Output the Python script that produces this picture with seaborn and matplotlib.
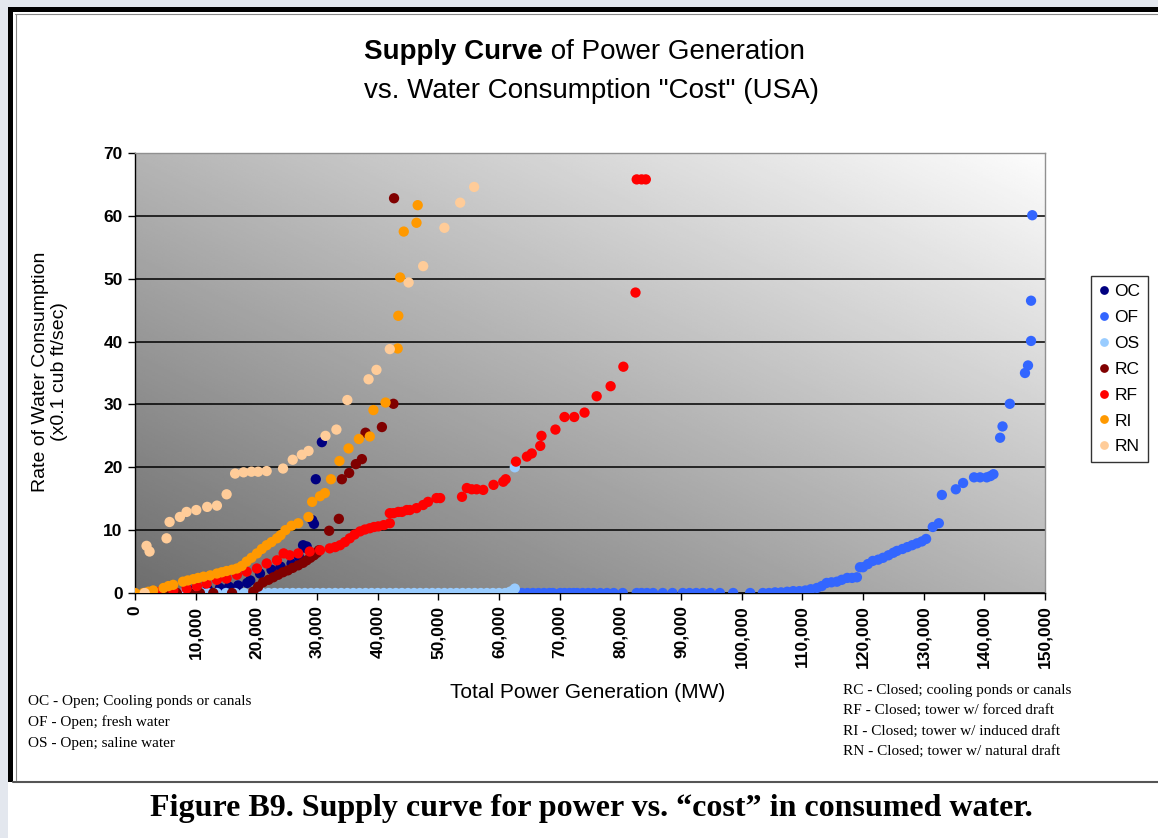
import matplotlib.pyplot as plt
import numpy as np
import pandas as pd
import seaborn as sns
from matplotlib.patches import Rectangle
from matplotlib.ticker import FuncFormatter

sns.set_theme(style="white")
plt.rcParams["font.family"] = ["Liberation Sans", "DejaVu Sans"]
plt.rcParams.update({"text.color": "black", "axes.labelcolor": "black",
                     "xtick.color": "black", "ytick.color": "black"})

# cooling technology codes and colours (Excel default palette)
types = ["OC", "OF", "OS", "RC", "RF", "RI", "RN"]
type_colors = ["#000080", "#3366FF", "#99CCFF", "#800000", "#FF0000", "#FF9900", "#FFCC99"]

oc_mw = [3000, 6000, 9000, 12000, 14000, 15500, 17000, 18500, 19000, 20600, 22500,
         24000, 25800, 27000, 27700, 28000, 28300, 29200, 29500, 29800, 30800]
oc_rate = [0, 0.2, 0.4, 0.6, 0.8, 1.0, 1.2, 1.6, 2.0, 3.1, 3.7,
           4.2, 4.7, 5.8, 7.6, 7.2, 7.4, 11.6, 11.0, 18.1, 24.0]

of_mw = [62900, 63800, 64700, 65600, 66500, 67400, 68300, 68900, 70100, 70800, 71600,
         72300, 72900, 73800, 74700, 75600, 76700, 77800, 78900, 80400, 82700, 83500,
         84400, 85400, 87000, 88600, 90300, 91400, 92500, 93600, 94800, 96400, 98600,
         101400, 103500, 104500, 105500, 106500, 107500, 108500, 109500, 110500, 111400,
         112400, 113200, 114000, 114800, 115700, 116500, 117400, 118200, 119000, 119500,
         120000, 120800, 121600, 122500, 123300, 124200, 125000, 125600, 126500, 127300,
         128100, 128900, 129700, 130400, 131500, 132500, 133000, 135300, 136500, 138300,
         139300, 140400, 141000, 141500, 142600, 143000, 144200, 146700, 147200, 147700,
         147700, 147900]
of_rate = [0, 0, 0, 0, 0, 0, 0, 0, 0, 0, 0,
           0, 0, 0, 0, 0, 0, 0, 0, 0, 0, 0,
           0, 0, 0, 0, 0, 0, 0, 0, 0, 0, 0,
           0, 0, 0, 0.1, 0.1, 0.2, 0.3, 0.3, 0.4, 0.6,
           0.8, 1.1, 1.6, 1.7, 1.8, 2.1, 2.4, 2.4, 2.5, 4.1,
           4.1, 4.6, 5.1, 5.3, 5.6, 6.0, 6.4, 6.7, 7.0, 7.3,
           7.6, 7.9, 8.2, 8.6, 10.5, 11.1, 15.6, 16.5, 17.5, 18.4,
           18.4, 18.4, 18.6, 18.9, 24.7, 26.5, 30.1, 35.0, 36.2, 40.1,
           46.5, 60.1]

os_mw = [8000, 9500, 11000, 12000, 13500, 15000, 16500, 18000, 19500, 21000, 22000,
         23000, 24000, 25000, 26000, 27000, 28000, 29000, 30000, 31000, 32000, 33000,
         34000, 35000, 36000, 37000, 38000, 39000, 40000, 41000, 42000, 43000, 44000,
         45000, 46000, 47000, 48000, 49000, 50000, 51000, 52000, 53000, 54000, 55000,
         56000, 57000, 58000, 59000, 60000, 61000, 61800, 62300, 62600, 62600]
os_rate = [0] * 50 + [0.2, 0.4, 0.7, 20.0]

rc_mw = [2000, 5800, 6900, 9100, 10700, 12900, 16000, 19500, 20300, 21100, 22000,
         22800, 23600, 24400, 25200, 26000, 26900, 27700, 28300, 28900, 29500, 30000,
         30300, 32000, 33600, 34100, 35300, 36400, 37400, 38000, 40700, 42600, 42700]
rc_rate = [0, 0, 0, 0, 0, 0, 0, 0.2, 1.0, 1.7, 2.1,
           2.5, 2.9, 3.3, 3.6, 4.0, 4.4, 4.8, 5.2, 5.6, 6.0, 6.4,
           6.8, 9.9, 11.8, 18.1, 19.1, 20.5, 21.3, 25.5, 26.4, 30.1, 62.8]

rf_mw = [1900, 4100, 6300, 8500, 10200, 11800, 13500, 15100, 16800, 18400, 20100,
         21700, 23400, 24500, 25500, 26900, 28800, 30500, 32100, 33000, 33800, 34600,
         35400, 36200, 37100, 37900, 38700, 39400, 40100, 41000, 42000, 42000, 42600,
         43400, 44000, 44800, 45300, 46400, 47500, 48300, 49700, 50300, 53900, 54700,
         55500, 56300, 57400, 59100, 60700, 61100, 62800, 64600, 65400, 66800, 67000,
         69300, 70800, 72400, 74100, 76100, 78400, 80500, 82500, 82700, 83500, 84200]
rf_rate = [0, 0.2, 0.4, 0.7, 1.1, 1.5, 2.1, 2.3, 2.9, 3.4, 3.9,
           4.7, 5.2, 6.3, 6.0, 6.3, 6.6, 6.8, 7.1, 7.3, 7.6, 8.1,
           8.7, 9.3, 9.8, 10.1, 10.3, 10.5, 10.6, 10.8, 11.1, 12.7, 12.7,
           12.9, 12.9, 13.2, 13.2, 13.5, 14.0, 14.5, 15.1, 15.1, 15.3, 16.7,
           16.5, 16.5, 16.4, 17.2, 17.7, 18.1, 20.9, 21.7, 22.2, 23.4, 25.0,
           26.0, 28.0, 28.0, 28.7, 31.3, 32.9, 36.0, 47.8, 65.8, 65.8, 65.8]

ri_mw = [0, 1400, 2200, 3000, 4700, 5500, 6300, 7900, 8700, 9600, 10400, 11300,
         12400, 13500, 14300, 15100, 16000, 16800, 17600, 18400, 19200, 20100, 20900,
         21700, 22500, 23400, 24000, 24800, 25800, 26900, 28600, 29200, 30500, 31300,
         32300, 33700, 35200, 36900, 38700, 39300, 41300, 43300, 43400, 43700, 44300,
         46400, 46600]
ri_rate = [0, 0, 0.2, 0.4, 0.8, 1.1, 1.3, 1.8, 2.0, 2.2, 2.4, 2.6,
           2.8, 3.1, 3.3, 3.5, 3.7, 3.9, 4.3, 5.0, 5.6, 6.3, 7.0,
           7.6, 8.1, 8.7, 9.2, 10.0, 10.7, 11.1, 12.1, 14.5, 15.4, 15.9,
           18.1, 21.0, 23.0, 24.5, 24.9, 29.1, 30.3, 38.9, 44.1, 50.2, 57.5,
           58.9, 61.7]

rn_mw = [1600, 1900, 2400, 5200, 5700, 7400, 8500, 10100, 11900, 13500, 15100,
         16500, 17900, 19200, 20300, 21700, 24400, 26000, 27500, 28600, 31400, 33200,
         35000, 38500, 39800, 42000, 45100, 47500, 51000, 53600, 55900]
rn_rate = [0, 7.5, 6.6, 8.7, 11.3, 12.1, 12.9, 13.2, 13.7, 13.9, 15.7,
           19.0, 19.2, 19.3, 19.3, 19.4, 19.8, 21.2, 22.0, 22.6, 25.0, 26.0,
           30.7, 34.0, 35.5, 38.8, 49.4, 52.0, 58.1, 62.1, 64.6]

x_ticks = list(range(0, 150001, 10000))
y_ticks = list(range(0, 71, 10))

notes_open = ["OC - Open; Cooling ponds or canals",
              "OF - Open; fresh water",
              "OS - Open; saline water"]
notes_closed = ["RC - Closed; cooling ponds or canals",
                "RF - Closed; tower w/ forced draft",
                "RI - Closed; tower w/ induced draft",
                "RN - Closed; tower w/ natural draft"]

series = {
    "OC": (oc_mw, oc_rate), "OF": (of_mw, of_rate), "OS": (os_mw, os_rate),
    "RC": (rc_mw, rc_rate), "RF": (rf_mw, rf_rate), "RI": (ri_mw, ri_rate),
    "RN": (rn_mw, rn_rate),
}
df = pd.concat(
    [pd.DataFrame({"mw": xs, "rate": ys, "type": t}) for t, (xs, ys) in series.items()],
    ignore_index=True,
)

W, H = 1158, 838
fig = plt.figure(figsize=(W / 100, H / 100), dpi=100, facecolor="#e3e7ee")

# page frame: white sheet with a heavy black border top/left
fig.add_artist(Rectangle((8 / W, 0), 1, 1 - 7 / H, transform=fig.transFigure,
                         facecolor="white", edgecolor="none", zorder=-5))
fig.add_artist(Rectangle((8 / W, 1 - 12 / H), 1, 5 / H, transform=fig.transFigure,
                         facecolor="black", edgecolor="none", zorder=-4))
fig.add_artist(Rectangle((8 / W, 1 - 782 / H), 5 / W, (782 - 7) / H, transform=fig.transFigure,
                         facecolor="black", edgecolor="none", zorder=-4))
fig.add_artist(plt.Line2D([13 / W, 1], [1 - 782 / H, 1 - 782 / H], transform=fig.transFigure,
                          color="#555555", lw=1.5))
fig.add_artist(plt.Line2D([15 / W, 1], [1 - 14.5 / H, 1 - 14.5 / H], transform=fig.transFigure,
                          color="#888888", lw=0.8))
fig.add_artist(plt.Line2D([15.5 / W, 15.5 / W], [1 - 14.5 / H, 1 - 780 / H],
                          transform=fig.transFigure, color="#888888", lw=0.8))

ax = fig.add_axes([135 / W, 1 - 593 / H, 910 / W, 440 / H])

# diagonal grey gradient behind the plot area
u, v = np.meshgrid(np.linspace(0, 1, 300), np.linspace(0, 1, 300))
shade = 0.43 + 0.56 * (u + v) / 2
ax.imshow(shade, extent=(0, 1, 0, 1), origin="lower", cmap="gray", vmin=0, vmax=1,
          transform=ax.transAxes, aspect="auto", zorder=0, interpolation="bilinear")

sns.scatterplot(data=df, x="mw", y="rate", hue="type", hue_order=types,
                palette=dict(zip(types, type_colors)), s=55, linewidth=0,
                ax=ax, zorder=3)

ax.set_xlim(0, 150000)
ax.set_ylim(0, 70)
ax.set_xticks(x_ticks)
ax.set_yticks(y_ticks)
ax.xaxis.set_major_formatter(FuncFormatter(lambda v, _: f"{int(v):,}"))
ax.tick_params(axis="x", labelrotation=90, labelsize=12.5, length=5, width=1,
               bottom=True, pad=4)
ax.tick_params(axis="y", labelsize=12.5, length=5, width=1, left=True, pad=4)
for lab in ax.get_xticklabels() + ax.get_yticklabels():
    lab.set_fontweight("semibold")
ax.set_axisbelow(True)
ax.yaxis.grid(True, color="black", linewidth=1.1)
ax.xaxis.grid(False)
for side in ["top", "right"]:
    ax.spines[side].set_color("#909090")
    ax.spines[side].set_linewidth(1)
for side in ["left", "bottom"]:
    ax.spines[side].set_color("black")
    ax.spines[side].set_linewidth(1)

ax.set_xlabel("")
ax.set_ylabel("")
fig.text(588 / W, 1 - 692 / H, "Total Power Generation (MW)", ha="center", va="center",
         fontsize=15)
fig.text(50 / W, 1 - 372 / H, "Rate of Water Consumption\n(x0.1 cub ft/sec)",
         ha="center", va="center", rotation=90, fontsize=14, linespacing=1.2)

handles, labels = ax.get_legend_handles_labels()
leg = ax.legend(handles, labels, loc="upper left", bbox_to_anchor=(1091 / W, 1 - 276 / H),
                bbox_transform=fig.transFigure, frameon=True, fontsize=12.5,
                labelspacing=0.62, handlelength=0.6, handletextpad=0.3,
                borderpad=0.45, borderaxespad=0, fancybox=False, markerscale=0.85)
leg.get_frame().set_edgecolor("black")
leg.get_frame().set_linewidth(1)

# title: bold lead-in followed by regular text
fig.text(543 / W, 1 - 52 / H, "Supply Curve", ha="right", va="center",
         fontsize=20, fontweight="bold")
fig.text(543 / W, 1 - 52 / H, " of Power Generation", ha="left", va="center", fontsize=20)
fig.text(592 / W, 1 - 91 / H, 'vs. Water Consumption "Cost" (USA)', ha="center",
         va="center", fontsize=20)

for i, note in enumerate(notes_open):
    fig.text(28 / W, 1 - (702 + 20.5 * i) / H, note, ha="left", va="center",
             fontsize=11, family=["Liberation Serif", "DejaVu Serif"])
for i, note in enumerate(notes_closed):
    fig.text(843 / W, 1 - (690 + 20.5 * i) / H, note, ha="left", va="center",
             fontsize=11, family=["Liberation Serif", "DejaVu Serif"])

fig.text(591 / W, 1 - 808 / H,
         "Figure B9. Supply curve for power vs. \u201ccost\u201d in consumed water.",
         ha="center", va="center", fontsize=23, fontweight="bold",
         family=["Liberation Serif", "DejaVu Serif"])

fig.savefig("out.png", dpi=100, facecolor=fig.get_facecolor())
